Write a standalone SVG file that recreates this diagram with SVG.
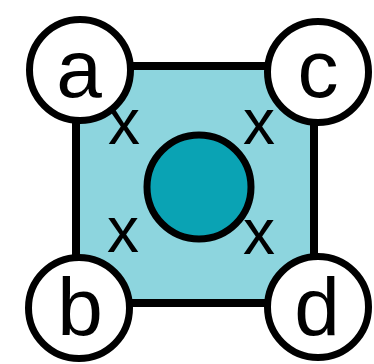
<svg xmlns="http://www.w3.org/2000/svg" width="374" height="364" viewBox="0 0 374 364">
<style>
.node{fill:#ffffff;stroke:#000000;stroke-width:7}
.lbl{font-family:"Liberation Sans",Arial,sans-serif;font-size:82px;fill:#000000;text-anchor:middle}
.x{font-family:"Liberation Sans",Arial,sans-serif;font-size:64px;fill:#000000;text-anchor:middle}
.edge{stroke:#000000;stroke-width:8;stroke-linecap:square}
</style>
<rect width="374" height="364" fill="#ffffff"/>
<g id="region">
<rect x="76" y="66" width="238" height="237" fill="#8dd5de"/>
</g>
<g id="connectors">
<line class="edge" x1="76" y1="66" x2="314" y2="66"/>
<line class="edge" x1="314" y1="66" x2="314" y2="303"/>
<line class="edge" x1="314" y1="303" x2="76" y2="303"/>
<line class="edge" x1="76" y1="303" x2="76" y2="66"/>
</g>
<g id="center">
<circle cx="199" cy="187" r="52" fill="#0aa3b4" stroke="#000000" stroke-width="7"/>
</g>
<g id="marks">
<text class="x" x="124" y="144">x</text>
<text class="x" x="259" y="144">x</text>
<text class="x" x="123" y="252">x</text>
<text class="x" x="259" y="254">x</text>
</g>
<g id="node-a"><circle class="node" cx="80" cy="70" r="50.5"/><text class="lbl" x="79" y="97">a</text></g>
<g id="node-c"><circle class="node" cx="318" cy="72" r="50.5"/><text class="lbl" x="318" y="97">c</text></g>
<g id="node-b"><circle class="node" cx="79" cy="308" r="50.5"/><text class="lbl" x="80" y="335">b</text></g>
<g id="node-d"><circle class="node" cx="318" cy="307" r="50.5"/><text class="lbl" x="317" y="335">d</text></g>
</svg>
